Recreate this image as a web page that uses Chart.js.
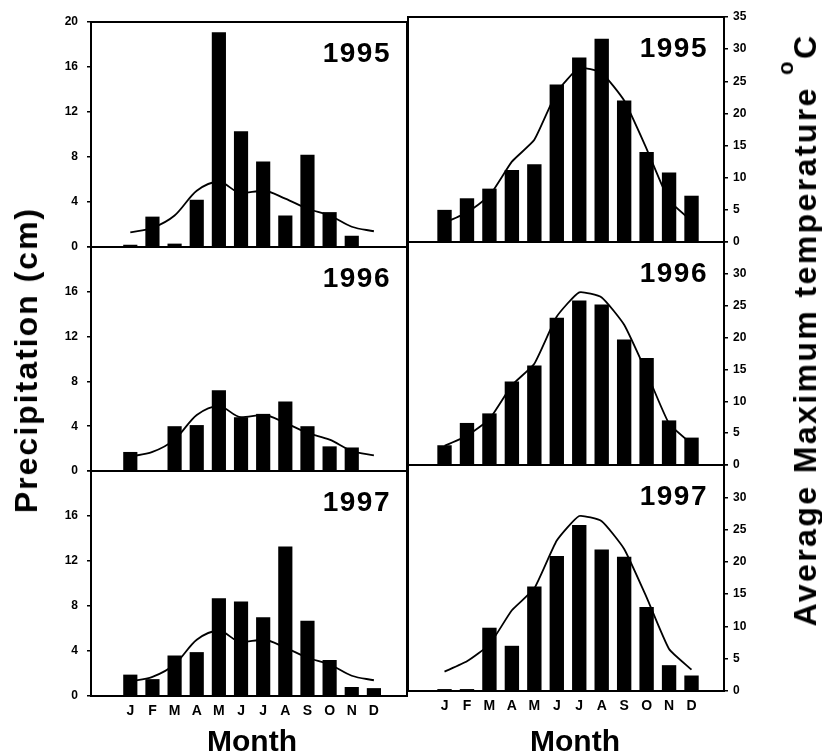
<!DOCTYPE html>
<html>
<head>
<meta charset="utf-8">
<title>Monthly precipitation and temperature 1995-1997</title>
<script src="https://cdn.jsdelivr.net/npm/chart.js@4.4.1/dist/chart.umd.min.js"></script>
<style>
  html, body { margin: 0; padding: 0; background: #fff; }
  #fig { position: relative; width: 822px; height: 756px; overflow: hidden;
         font-family: 'Liberation Sans', Arial, sans-serif; color: #000; }
  #fig canvas { position: absolute; left: 0; top: 0; }
  .ttl { position: absolute; font-weight: bold; white-space: nowrap; line-height: 1;
         transform: translate(-50%, -50%); }
  .rot { transform: translate(-50%, -50%) rotate(-90deg); }
</style>
</head>
<body>
<div id="fig">
  <canvas id="p0" width="822" height="756"></canvas>
  <canvas id="p1" width="822" height="756"></canvas>
  <canvas id="p2" width="822" height="756"></canvas>
  <canvas id="p3" width="822" height="756"></canvas>
  <canvas id="p4" width="822" height="756"></canvas>
  <canvas id="p5" width="822" height="756"></canvas>
  <div class="ttl rot" style="left:26px;top:360px;font-size:32px;letter-spacing:2px">Precipitation (cm)</div>
  <div class="ttl rot" style="left:805px;top:330px;font-size:32px;letter-spacing:2.4px">Average Maximum temperature <span style="position:relative;top:-23px;font-size:22px">o</span>C</div>
  <div class="ttl" style="left:252px;top:741px;font-size:30px">Month</div>
  <div class="ttl" style="left:575px;top:741px;font-size:30px">Month</div>
</div>
<script>
(function () {
  'use strict';

  // ---- data ----
  var MONTHS = ['J', 'F', 'M', 'A', 'M', 'J', 'J', 'A', 'S', 'O', 'N', 'D'];
  var YEARS = ['1995', '1996', '1997'];

  var precip1995 = [0.2, 2.7, 0.3, 4.2, 19.1, 10.3, 7.6, 2.8, 8.2, 3.1, 1.0, 0];
  var precip1996 = [1.7, 0, 4.0, 4.1, 7.2, 4.8, 5.1, 6.2, 4.0, 2.2, 2.1, 0];
  var precip1997 = [1.9, 1.5, 3.6, 3.9, 8.7, 8.4, 7.0, 13.3, 6.7, 3.2, 0.8, 0.7];
  var precipNormal = [1.3, 1.7, 2.8, 5.0, 5.8, 4.8, 5.0, 4.3, 3.4, 2.8, 1.8, 1.4];

  var temp1995 = [5.0, 6.8, 8.3, 11.2, 12.1, 24.5, 28.7, 31.6, 22.0, 14.0, 10.8, 7.2];
  var temp1996 = [3.1, 6.6, 8.1, 13.1, 15.6, 23.1, 25.8, 25.2, 19.7, 16.8, 7.0, 4.3];
  var temp1997 = [0.3, 0.3, 9.8, 7.0, 16.2, 20.9, 25.7, 21.9, 20.8, 13.0, 4.0, 2.4];
  var tempNormal = [3.0, 4.6, 7.2, 12.5, 15.9, 23.3, 27.1, 26.3, 22.0, 14.5, 6.5, 3.3];

  var PRECIP = [precip1995, precip1996, precip1997];
  var TEMP = [temp1995, temp1996, temp1997];

  // ---- panel boxes on the 822x756 page (the scan is a little skewed) ----
  var W = 822, H = 756;
  var COLS = [
    { left: 91, right: 407, xMin: -1.18, xMax: 11.9, yMax: 20, step: 4, axisW: 91, pad: 9 },
    { left: 408, right: 724, xMin: -1.04, xMax: 11.86, yMax: 35, step: 5, axisW: 50, pad: 5 }
  ];
  var ROWS = [
    [{ top: 22, bottom: 247 }, { top: 17, bottom: 242 }],
    [{ top: 247, bottom: 471 }, { top: 242, bottom: 465 }],
    [{ top: 471, bottom: 696 }, { top: 465, bottom: 691 }]
  ];
  var FONT = "'Liberation Sans', Arial, sans-serif";

  Chart.defaults.font.family = FONT;
  Chart.defaults.color = '#000';

  // box round each panel + the year written in its top right corner
  var panelFrame = {
    id: 'panelFrame',
    afterDraw: function (chart, args, opts) {
      var a = chart.chartArea, ctx = chart.ctx;
      ctx.save();
      ctx.strokeStyle = '#000';
      ctx.lineWidth = 2;
      ctx.strokeRect(a.left, a.top, a.right - a.left, a.bottom - a.top);
      if (opts.year) {
        ctx.font = 'bold 28px ' + FONT;
        if ('letterSpacing' in ctx) ctx.letterSpacing = '1.5px';
        ctx.fillStyle = '#000';
        ctx.textAlign = 'right';
        ctx.textBaseline = 'alphabetic';
        ctx.fillText(opts.year, a.right - 16, a.top + 40);
      }
      ctx.restore();
    }
  };

  function points(vals) {
    return vals.map(function (v, i) { return { x: i, y: v }; });
  }

  function makePanel(canvasId, row, col) {
    var c = COLS[col], box = ROWS[row][col];
    var isLeft = col === 0, isBottom = row === 2;
    var xH = isBottom ? 30 : 0;
    var bars = isLeft ? PRECIP[row] : TEMP[row];
    var line = isLeft ? precipNormal : tempNormal;

    new Chart(document.getElementById(canvasId), {
      type: 'bar',
      data: {
        datasets: [
          { type: 'line', data: points(line), borderColor: '#000', borderWidth: 1.8,
            pointRadius: 0, fill: false, order: 0,
            cubicInterpolationMode: isLeft ? 'monotone' : 'default', tension: isLeft ? 0.4 : 0.15 },
          { data: points(bars), backgroundColor: '#000', borderWidth: 0,
            barPercentage: 0.64, categoryPercentage: 1, order: 1 }
        ]
      },
      options: {
        responsive: false, animation: false, events: [],
        layout: {
          padding: {
            left: isLeft ? 0 : c.left,
            right: isLeft ? W - c.right : W - c.right - c.axisW,
            top: box.top,
            bottom: H - box.bottom - xH
          }
        },
        plugins: {
          legend: { display: false },
          tooltip: { enabled: false },
          panelFrame: { year: YEARS[row] }
        },
        scales: {
          x: {
            type: 'linear', display: isBottom, min: c.xMin, max: c.xMax,
            afterBuildTicks: function (s) { s.ticks = MONTHS.map(function (m, i) { return { value: i }; }); },
            afterFit: function (s) { s.height = xH; },
            grid: { display: false, drawTicks: false },
            border: { display: false },
            ticks: {
              autoSkip: false, maxRotation: 0, padding: 7,
              font: { size: 14, weight: 'bold' },
              callback: function (v) { return MONTHS[v]; }
            }
          },
          y: {
            position: isLeft ? 'left' : 'right', min: 0, max: c.yMax,
            afterFit: function (s) { s.width = c.axisW; },
            grid: { display: true, drawOnChartArea: false, drawTicks: true, tickLength: 4,
                    color: '#000', lineWidth: 1.5 },
            border: { display: false },
            ticks: {
              stepSize: c.step, padding: c.pad,
              font: { size: 12, weight: 'bold' },
              // the top value of lower panels sits under the 0 of the panel above
              callback: function (v) { return (row > 0 && v === c.yMax) ? '' : v; }
            }
          }
        }
      },
      plugins: [panelFrame]
    });
  }

  var n = 0;
  for (var r = 0; r < 3; r++) {
    for (var k = 0; k < 2; k++) makePanel('p' + (n++), r, k);
  }
})();
</script>
</body>
</html>
